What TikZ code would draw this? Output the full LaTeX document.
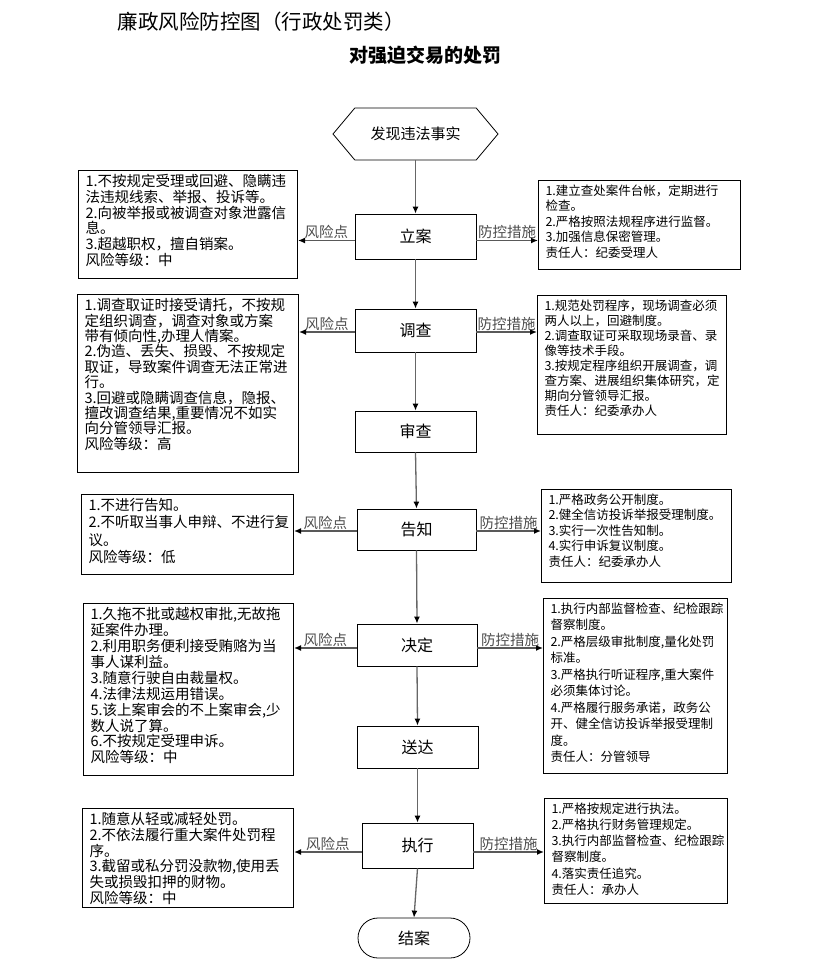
\documentclass[tikz,border=0pt]{standalone}
\usepackage{fontspec}
\setmainfont{Noto Sans CJK SC}
\usetikzlibrary{arrows.meta,shapes.symbols,shapes.misc}

\tikzset{
  stepbox/.style={shape=rectangle,draw,line width=0.8pt,minimum width=121pt,minimum height=43pt,inner sep=0pt,font=\fontsize{16}{18}\selectfont},
  hexbox/.style={shape=signal,signal to=west and east,signal pointer angle=100,draw,line width=0.8pt,minimum width=165pt,minimum height=52pt,inner sep=0pt,font=\fontsize{15}{17}\selectfont},
  endbox/.style={shape=rounded rectangle,draw,line width=0.8pt,minimum width=112pt,minimum height=40pt,inner sep=0pt,font=\fontsize{16}{18}\selectfont},
  riskbox/.style={shape=rectangle,draw,line width=1pt,anchor=north west,inner xsep=7pt,inner ysep=4pt,font=\fontsize{14.5}{15.7}\selectfont},
  measurebox/.style={riskbox,font=\fontsize{12.5}{15.5}\selectfont},
  flow/.style={draw=black!60,line width=1.3pt,-{Latex[length=7pt,width=6pt,black]}},
  side/.style={draw=black!65,line width=1.6pt,-{Latex[length=7pt,width=6pt,black]}},
  tag/.style={font=\fontsize{14.5}{16}\selectfont,text=black!70,inner sep=1pt,above}
}
\newcommand{\boxtext}[3]{\parbox[t][#2][t]{#1}{\raggedright #3}}

\begin{document}
\begin{tikzpicture}[x=1pt,y=-1pt]
      \useasboundingbox (0,0) rectangle (823,971);

      % titles
      \node[anchor=west,font=\fontsize{20.5}{24}\selectfont] (Title) at (114,22) {廉政风险防控图（行政处罚类）};
      \node[font=\fontsize{19}{22}\selectfont\bfseries] (SubTitle) at (425,55) {对强迫交易的处罚};

      % main steps
      \node[hexbox] (FaXian) at (415.5,134) {发现违法事实};
      \node[stepbox,minimum height=45pt] (LiAn) at (415.5,236.5) {立案};
      \node[stepbox] (DiaoCha) at (415.5,330.5) {调查};
      \node[stepbox,minimum height=41pt] (ShenCha) at (415.5,431.5) {审查};
      \node[stepbox,minimum width=119pt,minimum height=41pt] (GaoZhi) at (416.5,529.5) {告知};
      \node[stepbox,minimum width=120pt,minimum height=42pt] (JueDing) at (417,645) {决定};
      \node[stepbox,minimum height=42pt] (SongDa) at (417.5,747) {送达};
      \node[stepbox,minimum width=111pt,minimum height=45pt] (ZhiXing) at (417.5,845.5) {执行};
      \node[endbox] (JieAn) at (414,938) {结案};

      % risk points
      \node[riskbox] (R1) at (78,170) {\boxtext{205pt}{100pt}{1.不按规定受理或回避、隐瞒违\\法违规线索、举报、投诉等。\\2.向被举报或被调查对象泄露信\\息。\\3.超越职权，擅自销案。\\风险等级：中}};
      \node[riskbox,font=\fontsize{14.5}{15.4}\selectfont] (R2) at (77,294) {\boxtext{207pt}{170pt}{1.调查取证时接受请托，不按规\\定组织调查，调查对象或方案\\带有倾向性,办理人情案。\\2.伪造、丢失、损毁、不按规定\\取证，导致案件调查无法正常进\\行。\\3.回避或隐瞒调查信息，隐报、\\擅改调查结果,重要情况不如实\\向分管领导汇报。\\风险等级：高}};
      \node[riskbox,font=\fontsize{14.5}{17.3}\selectfont] (R3) at (81,494) {\boxtext{198pt}{72pt}{1.不进行告知。\\2.不听取当事人申辩、不进行复\\议。\\风险等级：低}};
      \node[riskbox,font=\fontsize{14.5}{15.9}\selectfont] (R4) at (83,603) {\boxtext{196pt}{164pt}{1.久拖不批或越权审批,无故拖\\延案件办理。\\2.利用职务便利接受贿赂为当\\事人谋利益。\\3.随意行驶自由裁量权。\\4.法律法规运用错误。\\5.该上案审会的不上案审会,少\\数人说了算。\\6.不按规定受理申诉。\\风险等级：中}};
      \node[riskbox] (R5) at (82,808) {\boxtext{197pt}{91pt}{1.随意从轻或减轻处罚。\\2.不依法履行重大案件处罚程\\序。\\3.截留或私分罚没款物,使用丢\\失或损毁扣押的财物。\\风险等级：中}};

      % measures
      \node[measurebox] (M1) at (538,180) {\boxtext{188pt}{81pt}{1.建立查处案件台帐，定期进行\\检查。\\2.严格按照法规程序进行监督。\\3.加强信息保密管理。\\责任人：纪委受理人}};
      \node[measurebox,font=\fontsize{12.5}{15}\selectfont] (M2) at (537,295) {\boxtext{175pt}{131pt}{1.规范处罚程序，现场调查必须\\两人以上，回避制度。\\2.调查取证可采取现场录音、录\\像等技术手段。\\3.按规定程序组织开展调查，调\\查方案、进展组织集体研究，定\\期向分管领导汇报。\\责任人：纪委承办人}};
      \node[measurebox] (M3) at (541,489) {\boxtext{176pt}{85pt}{1.严格政务公开制度。\\2.健全信访投诉举报受理制度。\\3.实行一次性告知制。\\4.实行申诉复议制度。\\责任人：纪委承办人}};
      \node[measurebox,font=\fontsize{12.5}{16.5}\selectfont] (M4) at (543,598) {\boxtext{170pt}{167pt}{1.执行内部监督检查、纪检跟踪\\督察制度。\\2.严格层级审批制度,量化处罚\\标准。\\3.严格执行听证程序,重大案件\\必须集体讨论。\\4.严格履行服务承诺，政务公\\开、健全信访投诉举报受理制\\度。\\责任人：分管领导}};
      \node[measurebox,font=\fontsize{12.5}{16.3}\selectfont] (M5) at (544,798) {\boxtext{169pt}{97pt}{1.严格按规定进行执法。\\2.严格执行财务管理规定。\\3.执行内部监督检查、纪检跟踪\\督察制度。\\4.落实责任追究。\\责任人：承办人}};

      % connectors
      \foreach \a/\b in {FaXian/LiAn,LiAn/DiaoCha,DiaoCha/ShenCha,ShenCha/GaoZhi,GaoZhi/JueDing,JueDing/SongDa,SongDa/ZhiXing,ZhiXing/JieAn}
        \draw[flow] (\a.south) -- (\b.north);
      \foreach \s/\r/\m/\d in {LiAn/R1/M1/4,DiaoCha/R2/M2/1.5,GaoZhi/R3/M3/1.5,JueDing/R4/M4/3,ZhiXing/R5/M5/6.5}{
        \coordinate (wl) at ([yshift=-\d pt]\s.west);
        \coordinate (el) at ([yshift=-\d pt]\s.east);
        \draw[side] (wl) -- (\r.east |- wl) node[tag,midway] {风险点};
        \draw[side] (el) -- (\m.west |- el) node[tag,midway] {防控措施};
      }
    \end{tikzpicture}
\end{document}
